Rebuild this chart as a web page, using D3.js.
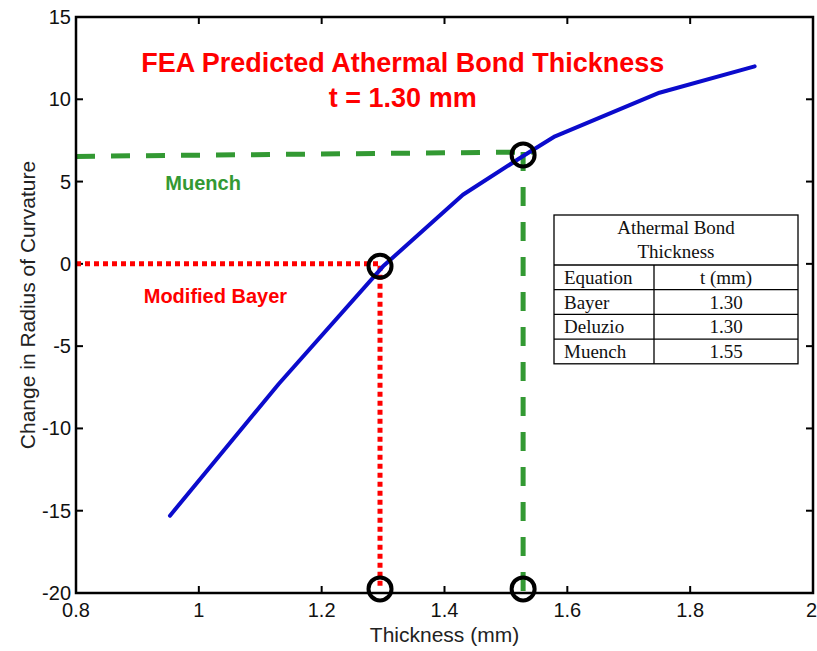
<!DOCTYPE html>
<html>
<head>
<meta charset="utf-8">
<script src="https://cdn.jsdelivr.net/npm/d3@7"></script>
<style>
  html, body { margin: 0; padding: 0; background: #fff; }
  svg { display: block; font-family: "Liberation Sans", Arial, sans-serif; }
  .tick-label { font-size: 20px; fill: #111; }
  .axis-title { font-size: 21px; fill: #222; }
  .tbl text { font-family: "Liberation Serif", "Times New Roman", serif; font-size: 19px; fill: #111; }
</style>
</head>
<body>
<svg id="chart" width="817" height="651"></svg>
<script>
// FEA curve (thickness in mm vs change in radius of curvature)
const thickness = [0.953, 1.13, 1.30, 1.43, 1.53, 1.58, 1.75, 1.905];
const curvature = [-15.3, -7.3, -0.15, 4.2, 6.6, 7.75, 10.4, 12.0];

const xTicks = [0.8, 1.0, 1.2, 1.4, 1.6, 1.8, 2.0];
const xTickLabels = ["0.8", "1", "1.2", "1.4", "1.6", "1.8", "2"];
const yTicks = [-20, -15, -10, -5, 0, 5, 10, 15];
const yTickLabels = ["-20", "-15", "-10", "-5", "0", "5", "10", "15"];

// reference lines
const bayerLineX = [0.8, 1.295, 1.295];
const bayerLineY = [0, 0, -19.8];
const muenchHLineX = [0.8, 1.545];
const muenchHLineY = [6.53, 6.8];
const muenchVLineX = [1.528, 1.528];
const muenchVLineY = [6.8, -20];

const circleX = [1.295, 1.528, 1.295, 1.528];
const circleY = [-0.15, 6.62, -19.75, -19.75];

const tableHeader = ["Athermal Bond", "Thickness"];
const tableCols = ["Equation", "t (mm)"];
const tableEquations = ["Bayer", "Deluzio", "Muench"];
const tableValues = ["1.30", "1.30", "1.55"];

const W = 817, H = 651;
const plot = { left: 76, right: 813, top: 17, bottom: 593 };

const svg = d3.select("#chart");
svg.append("rect").attr("width", W).attr("height", H).attr("fill", "#fff");

const x = d3.scaleLinear().domain([0.8, 2]).range([plot.left, plot.right]);
const y = d3.scaleLinear().domain([-20, 15]).range([plot.bottom, plot.top]);

const TICK = 7;
const gAxes = svg.append("g");

// ticks on all four sides (pointing inward), MATLAB style
xTicks.forEach((t) => {
  gAxes.append("line").attr("x1", x(t)).attr("x2", x(t))
    .attr("y1", plot.bottom).attr("y2", plot.bottom - TICK)
    .attr("stroke", "#000").attr("stroke-width", 2);
  gAxes.append("line").attr("x1", x(t)).attr("x2", x(t))
    .attr("y1", plot.top).attr("y2", plot.top + TICK)
    .attr("stroke", "#000").attr("stroke-width", 2);
});
yTicks.forEach((t) => {
  gAxes.append("line").attr("x1", plot.left).attr("x2", plot.left + TICK)
    .attr("y1", y(t)).attr("y2", y(t))
    .attr("stroke", "#000").attr("stroke-width", 2);
  gAxes.append("line").attr("x1", plot.right).attr("x2", plot.right - TICK)
    .attr("y1", y(t)).attr("y2", y(t))
    .attr("stroke", "#000").attr("stroke-width", 2);
});

const lastX = xTicks[xTicks.length - 1];
gAxes.selectAll("text.xt").data(xTicks).join("text")
  .attr("class", "tick-label")
  .attr("x", (d) => (d === lastX ? x(d) + 4 : x(d))).attr("y", plot.bottom + 24)
  .attr("text-anchor", (d) => (d === lastX ? "end" : "middle"))
  .text((d, i) => xTickLabels[i]);

gAxes.selectAll("text.yt").data(yTicks).join("text")
  .attr("class", "tick-label")
  .attr("x", plot.left - 5).attr("y", (d) => y(d) + 7)
  .attr("text-anchor", "end")
  .text((d, i) => yTickLabels[i]);

gAxes.append("text").attr("class", "axis-title")
  .attr("x", (plot.left + plot.right) / 2).attr("y", plot.bottom + 49)
  .attr("text-anchor", "middle")
  .text("Thickness (mm)");

gAxes.append("text").attr("class", "axis-title")
  .attr("transform", `translate(35,${(plot.top + plot.bottom) / 2}) rotate(-90)`)
  .attr("text-anchor", "middle")
  .text("Change in Radius of Curvature");

// reference lines
const line = d3.line().x((d) => x(d[0])).y((d) => y(d[1]));

svg.append("path")
  .attr("d", line(d3.zip(muenchHLineX, muenchHLineY)))
  .attr("fill", "none").attr("stroke", "#339933")
  .attr("stroke-width", 5).attr("stroke-dasharray", "19,16");
svg.append("path")
  .attr("d", line(d3.zip(muenchVLineX, muenchVLineY)))
  .attr("fill", "none").attr("stroke", "#339933")
  .attr("stroke-width", 5).attr("stroke-dasharray", "19,16");

svg.append("path")
  .attr("d", line(d3.zip(bayerLineX, bayerLineY)))
  .attr("fill", "none").attr("stroke", "#ff0000")
  .attr("stroke-width", 5).attr("stroke-dasharray", "5,4");

// FEA curve
svg.append("path")
  .attr("d", line(d3.zip(thickness, curvature)))
  .attr("fill", "none").attr("stroke", "#0b0bcc")
  .attr("stroke-width", 4).attr("stroke-linejoin", "round").attr("stroke-linecap", "round");

// box
svg.append("rect")
  .attr("x", plot.left).attr("y", plot.top)
  .attr("width", plot.right - plot.left).attr("height", plot.bottom - plot.top)
  .attr("fill", "none").attr("stroke", "#000").attr("stroke-width", 2.5);

// markers
svg.selectAll("circle.mark").data(d3.zip(circleX, circleY)).join("circle")
  .attr("class", "mark")
  .attr("cx", (d) => x(d[0])).attr("cy", (d) => y(d[1]))
  .attr("r", 11.5)
  .attr("fill", "none").attr("stroke", "#000").attr("stroke-width", 4);

// annotations
svg.append("text")
  .attr("x", x(1.332)).attr("y", y(11.66))
  .attr("text-anchor", "middle")
  .attr("font-size", 27).attr("font-weight", "bold").attr("fill", "#ff0000")
  .text("FEA Predicted Athermal Bond Thickness");
svg.append("text")
  .attr("x", x(1.332)).attr("y", y(9.53))
  .attr("text-anchor", "middle")
  .attr("font-size", 27).attr("font-weight", "bold").attr("fill", "#ff0000")
  .text("t = 1.30 mm");

svg.append("text")
  .attr("x", x(1.007)).attr("y", y(4.49))
  .attr("text-anchor", "middle")
  .attr("font-size", 20).attr("font-weight", "bold").attr("fill", "#339933")
  .text("Muench");
svg.append("text")
  .attr("x", x(1.027)).attr("y", y(-2.38))
  .attr("text-anchor", "middle")
  .attr("font-size", 20).attr("font-weight", "bold").attr("fill", "#ff0000")
  .text("Modified Bayer");

// table
const tbl = { left: 554, top: 215, width: 244, colX: 654, headH: 50, rowH: 24.7 };
const gT = svg.append("g").attr("class", "tbl");
const nRows = 1 + tableEquations.length;
const tblBottom = tbl.top + tbl.headH + nRows * tbl.rowH;

gT.append("rect")
  .attr("x", tbl.left).attr("y", tbl.top)
  .attr("width", tbl.width).attr("height", tblBottom - tbl.top)
  .attr("fill", "#fff").attr("stroke", "#000").attr("stroke-width", 1.3);

d3.range(nRows).forEach((i) => {
  const yy = tbl.top + tbl.headH + i * tbl.rowH;
  gT.append("line").attr("x1", tbl.left).attr("x2", tbl.left + tbl.width)
    .attr("y1", yy).attr("y2", yy).attr("stroke", "#000").attr("stroke-width", 1.3);
});
gT.append("line").attr("x1", tbl.colX).attr("x2", tbl.colX)
  .attr("y1", tbl.top + tbl.headH).attr("y2", tblBottom)
  .attr("stroke", "#000").attr("stroke-width", 1.3);

tableHeader.forEach((t, i) => {
  gT.append("text")
    .attr("x", tbl.left + tbl.width / 2).attr("y", tbl.top + 19 + i * 24)
    .attr("text-anchor", "middle").text(t);
});

const rowsLeft = [tableCols[0]].concat(tableEquations);
const rowsRight = [tableCols[1]].concat(tableValues);
rowsLeft.forEach((t, i) => {
  const base = tbl.top + tbl.headH + i * tbl.rowH + 19;
  gT.append("text").attr("x", tbl.left + 10).attr("y", base).text(t);
  gT.append("text")
    .attr("x", (tbl.colX + tbl.left + tbl.width) / 2).attr("y", base)
    .attr("text-anchor", "middle").text(rowsRight[i]);
});
</script>
</body>
</html>
